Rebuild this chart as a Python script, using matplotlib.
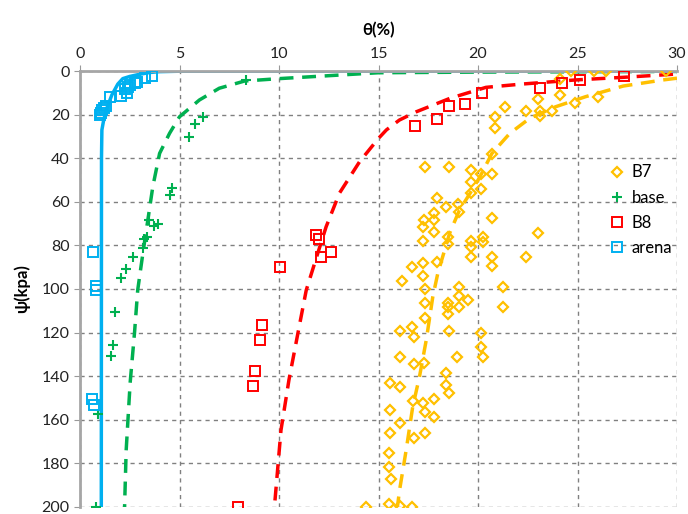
import matplotlib
matplotlib.use('Agg')
import matplotlib.pyplot as plt

plt.rcParams['font.family'] = ['Lato', 'DejaVu Sans']

# measured points (theta %, psi kpa)
b7_theta = [24.68, 25.85, 26.44, 29.46, 24.13, 24.13, 26.02, 23.0, 24.85, 21.37, 22.39, 23.12,
            23.71, 23.12, 20.83, 20.83, 20.71, 17.35, 18.52, 19.66, 20.13, 20.71, 19.66, 19.66,
            20.13, 17.95, 18.4, 18.99, 19.04, 17.81, 17.31, 17.81, 17.23, 20.71, 17.81, 23.0,
            17.23, 18.48, 18.48, 19.66, 19.66, 20.24, 20.24, 19.66, 20.7, 22.42, 20.7, 17.95,
            17.23, 16.68, 17.23, 16.17, 17.35, 19.04, 21.25, 19.04, 19.52, 17.35, 18.48, 18.48,
            19.04, 21.25, 18.48, 17.35, 16.09, 16.68, 16.78, 18.52, 20.13, 20.13, 20.24, 18.95,
            16.09, 16.78, 17.31, 18.4, 15.6, 16.09, 18.4, 18.52, 16.73, 17.23, 17.81, 15.6,
            17.35, 17.81, 16.09, 15.6, 17.35, 16.78, 15.55, 15.55, 15.64, 15.55, 16.09, 16.68,
            14.35]
b7_psi = [0, 0, 0, 0, 3.7, 11, 12.1, 13, 14.8, 16.4, 18.2, 18.2,
          18.2, 20.5, 21.2, 26.3, 38.1, 43.9, 43.9, 45.4, 47.2, 47.2, 51.1, 56.1,
          54.3, 58.4, 62.2, 61, 64.5, 65.3, 68.3, 68.3, 71.4, 67.6, 74, 74.2,
          77.8, 76.3, 79.4, 77.8, 80.6, 76.3, 78.6, 85.2, 85.2, 85.2, 89.3, 87.5,
          88.2, 90, 94, 96.3, 100.1, 99.2, 99.2, 103.2, 105, 106.3, 106.3, 108.1,
          108.1, 108.4, 111.5, 113.5, 119.1, 117.3, 122.2, 119.1, 120, 126.5, 131.4, 131.4,
          131, 134.4, 134.1, 138.4, 143.3, 145.1, 144, 147.5, 151.2, 152.4, 150.5, 155.5,
          156.6, 158.6, 161.3, 166.2, 166.2, 168.5, 175.4, 181.5, 187.3, 198.6, 199.5, 199.9,
          200]

base_theta = [8.32, 6.2, 5.79, 5.47, 4.63, 4.5, 3.46, 3.91, 3.74, 3.36, 3.24, 3.16, 2.65,
              2.29, 2.07, 1.78, 1.68, 1.58, 0.91, 0.78]
base_psi = [4.1, 21, 24.3, 30.1, 53.8, 56.9, 68.3, 70.2, 71.1, 76, 77.2, 81.3, 85.2,
            91, 95.1, 110.4, 125.5, 130.6, 157.3, 199.9]

b8_theta = [27.36, 25.13, 24.23, 23.12, 20.21, 19.37, 18.52, 17.95, 16.81, 11.87, 12.0, 12.62,
            12.12, 10.03, 9.14, 9.07, 8.77, 8.69, 7.93]
b8_psi = [2.3, 4.1, 5.4, 7.9, 10.2, 15.1, 16.1, 22, 25.1, 75.2, 77.2, 83.2,
          85.2, 90.1, 116.4, 123.4, 137.5, 144.3, 199.8]

arena_theta = [3.63, 3.29, 2.87, 2.74, 2.49, 2.4, 2.37, 2.04, 2.24, 1.52, 1.32, 1.23, 1.12,
               1.03, 1.07, 0.64, 0.78, 0.78, 0.61, 0.71]
arena_psi = [2.3, 3.1, 4.9, 5.7, 6.4, 7.5, 9.9, 11.5, 8.4, 11.8, 16, 17.1, 17.9,
             20.2, 19.1, 82.9, 98.6, 100.5, 150.3, 153.4]

# fitted curves
b7_fit_theta = [30.0, 29.3, 27.3, 25.4, 23.9, 22.6, 21.6, 20.7, 20.1, 19.6, 19.07, 18.57,
                17.98, 17.73, 17.4, 17.06, 16.72, 16.39, 16.06, 15.95]
b7_fit_psi = [3.3, 4.1, 6.9, 11.8, 16.4, 21.7, 28.6, 37.8, 48.5, 56.1, 63.8, 74.5,
              92.8, 103.5, 123.4, 140.2, 154, 173.9, 192.2, 200]

base_fit_theta = [30.0, 20.0, 15.0, 10.0, 8.27, 7.0, 6.0, 5.0, 4.5, 4.0, 3.66, 3.41, 3.16,
                  2.9, 2.74, 2.52, 2.32, 2.24]
base_fit_psi = [0.2, 0.5, 0.8, 3.5, 4.6, 7.9, 13.3, 21, 28.6, 37.8, 53, 68.3, 83.6,
                100.5, 120, 143, 174, 200]

b8_fit_theta = [29.8, 27.3, 24.9, 22.2, 20.4, 18.6, 16.9, 16.05, 15.4, 15.0, 14.05, 13.04,
                12.37, 11.9, 11.37, 10.95, 10.5, 10.1, 9.77]
b8_fit_psi = [1.5, 2.9, 4.1, 6.0, 7.5, 12.5, 18.7, 22.5, 27, 30.9, 41.6, 56,
              71.4, 85, 100.5, 120.3, 141.7, 164.7, 200]

arena_fit_theta = [30.0, 5.0, 4.0, 3.5, 3.0, 2.5, 2.15, 1.9, 1.6, 1.35, 1.2, 1.1, 1.08, 1.07]
arena_fit_psi = [0.0, 0.1, 0.3, 0.7, 1.5, 2.5, 3.5, 6, 11, 17, 22, 27, 40, 200]

YELLOW = '#FFC000'
GREEN = '#00B050'
RED = '#FF0000'
CYAN = '#00B0F0'

fig = plt.figure(figsize=(6.88, 5.14), dpi=100)
ax = fig.add_axes([80 / 688, 1 - 507 / 514, 597 / 688, 436 / 514])

ax.plot(b7_fit_theta, b7_fit_psi, color=YELLOW, lw=2.5, dashes=(4, 2.5), zorder=2)
ax.plot(base_fit_theta, base_fit_psi, color=GREEN, lw=2.5, dashes=(4, 2.5), zorder=2)
ax.plot(b8_fit_theta, b8_fit_psi, color=RED, lw=2.5, dashes=(4, 2.5), zorder=2)
ax.plot(arena_fit_theta, arena_fit_psi, color=CYAN, lw=2.5, zorder=2)

ax.plot(b7_theta, b7_psi, 'D', ms=5, mfc='none', mec=YELLOW, mew=1.6, ls='none', label='B7', zorder=3)
ax.plot(base_theta, base_psi, '+', ms=7, color=GREEN, mew=1.5, ls='none', label='base', zorder=3)
ax.plot(b8_theta, b8_psi, 's', ms=6.5, mfc='none', mec=RED, mew=1.4, ls='none', label='B8', zorder=3)
ax.plot(arena_theta, arena_psi, 's', ms=6.5, mfc='none', mec=CYAN, mew=1.4, ls='none', label='arena', zorder=3)

ax.set_xlim(0, 30)
ax.set_ylim(200, 0)
ax.set_xticks(range(0, 31, 5))
ax.set_yticks(range(0, 201, 20))
ax.xaxis.tick_top()
ax.xaxis.set_label_position('top')
ax.tick_params(labelsize=11.5, colors='#222222', length=4)
ax.tick_params(axis='both', color='#999999')
ax.set_xlabel('θ(%)', fontsize=12, fontweight='bold', labelpad=8)
ax.set_ylabel('ψ(kpa)', fontsize=12, fontweight='bold', labelpad=8)

ax.grid(True, ls=(0, (3, 3)), color='#808080', lw=1)
for s in ['right', 'bottom']:
    ax.spines[s].set_visible(False)
for s in ['left', 'top']:
    ax.spines[s].set_color('#A6A6A6')
    ax.spines[s].set_linewidth(2)

ax.legend(loc='upper left', bbox_to_anchor=(0.86, 0.82), frameon=False, fontsize=12,
          handlelength=1, handletextpad=0.4, labelspacing=0.55)

fig.savefig('out.png', dpi=100)
